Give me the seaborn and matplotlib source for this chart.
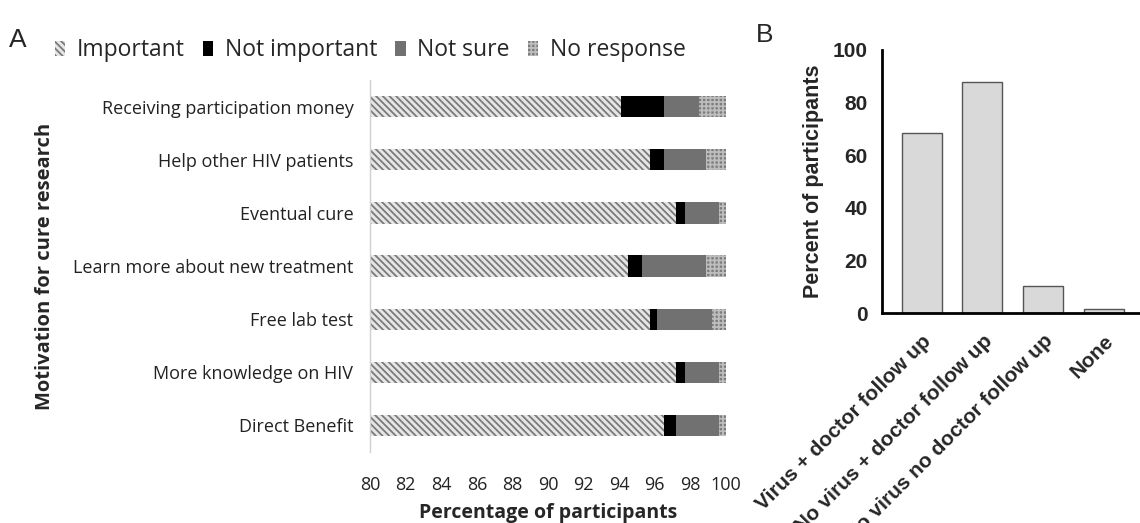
import matplotlib
matplotlib.use("Agg")
import matplotlib.pyplot as plt
import seaborn as sns
import numpy as np
import pandas as pd
from matplotlib.patches import Patch

# ---- Data: panel A ----
motivations = ["Receiving participation money", "Help other HIV patients", "Eventual cure",
               "Learn more about new treatment", "Free lab test", "More knowledge on HIV",
               "Direct Benefit"]
important = [94.1, 95.7, 97.2, 94.5, 95.7, 97.2, 96.5]
not_important = [2.4, 0.8, 0.5, 0.8, 0.4, 0.5, 0.7]
not_sure = [2.0, 2.4, 1.9, 3.6, 3.1, 1.9, 2.4]
no_response = [1.5, 1.1, 0.4, 1.1, 0.8, 0.4, 0.4]
categories_A = ["Important", "Not important", "Not sure", "No response"]

# ---- Data: panel B ----
groups_B = ["Virus + doctor follow up", "No virus + doctor follow up",
            "No virus no doctor follow up", "None"]
percent_B = [68.2, 87.8, 10.5, 1.6]

sns.set_theme(style="white")
plt.rcParams["hatch.linewidth"] = 1.3

fig = plt.figure(figsize=(11.4, 5.23), dpi=100)
axA = fig.add_axes([0.3246, 0.1358, 0.3123, 0.711])
axB = fig.add_axes([0.7734, 0.401, 0.2266, 0.5042])

dfA = pd.DataFrame({"Motivation": motivations, "Important": important,
                    "Not important": not_important, "Not sure": not_sure,
                    "No response": no_response})
cum = dfA[categories_A].cumsum(axis=1)

styles = {
    "Important": dict(fc="#e6e6e6", ec="#7a7a7a", hatch="\\\\\\\\\\"),
    "Not important": dict(fc="black", ec="black", hatch=None),
    "Not sure": dict(fc="#717171", ec="#717171", hatch=None),
    "No response": dict(fc="#7c7c7c", ec="#bdbdbd", hatch="++++"),
}

for cat in reversed(categories_A):
    n_before = len(axA.patches)
    sns.barplot(x=cum[cat], y=dfA["Motivation"], orient="h", ax=axA,
                width=0.4, color=styles[cat]["fc"], saturation=1)
    for p in axA.patches[n_before:]:
        p.set_facecolor(styles[cat]["fc"])
        p.set_edgecolor(styles[cat]["ec"])
        p.set_linewidth(0)
        if styles[cat]["hatch"]:
            p.set_hatch(styles[cat]["hatch"])

fontA = "Open Sans"
axA.set_xlim(80, 100)
axA.set_ylim(6.5, -0.5)
axA.set_xticks(np.arange(80, 101, 2))
axA.set_xticklabels([str(v) for v in range(80, 101, 2)], fontsize=13, family=fontA, color="#222222")
axA.set_yticks(range(len(motivations)))
axA.set_yticklabels(motivations, fontsize=13, family=fontA, color="#222222")
axA.tick_params(axis="y", length=0, pad=12)
axA.tick_params(axis="x", length=0, pad=17)
for s in ["top", "right", "bottom"]:
    axA.spines[s].set_visible(False)
axA.spines["left"].set_color("#d0d0d0")
axA.spines["left"].set_linewidth(1)
axA.set_xlabel("Percentage of participants", fontsize=14, fontweight="bold", family=fontA, labelpad=7)
axA.set_ylabel("Motivation for cure research", fontsize=14.5, fontweight="bold", family=fontA)
axA.yaxis.set_label_coords(-0.885, 0.5)

handles = [Patch(facecolor=styles[c]["fc"], edgecolor=styles[c]["ec"], hatch=styles[c]["hatch"], linewidth=0)
           for c in categories_A]
axA.legend(handles, categories_A, loc="center left", bbox_to_anchor=(-0.885, 1.08), ncol=4,
           frameon=False, prop={"family": fontA, "size": 16.5}, handlelength=0.45, handleheight=0.65,
           handletextpad=0.5, columnspacing=0.8, borderaxespad=0, borderpad=0)

fig.text(0.008, 0.91, "A", fontsize=19, family="Liberation Sans")
fig.text(0.663, 0.92, "B", fontsize=19, family="Liberation Sans")

# ---- Panel B ----
dfB = pd.DataFrame({"Group": groups_B, "Percent": percent_B})
sns.barplot(data=dfB, x="Group", y="Percent", ax=axB, color="#d9d9d9", saturation=1,
            width=0.66, edgecolor="#555555", linewidth=1.0)
axB.set_xlim(-0.66, 3.6)
axB.set_ylim(0, 100)
axB.set_yticks(range(0, 101, 20))
fontB = "Liberation Sans"
axB.set_yticklabels([str(v) for v in range(0, 101, 20)], fontsize=15, fontweight="bold", family=fontB)
axB.set_xticks(range(len(groups_B)))
axB.set_xticklabels(groups_B, rotation=45, ha="right", rotation_mode="anchor",
                    fontsize=15, fontweight="bold", family=fontB)
axB.tick_params(axis="both", length=8, width=2, color="black", direction="out", pad=2)
axB.tick_params(axis="x", pad=5)
for s in ["top", "right"]:
    axB.spines[s].set_visible(False)
for s in ["left", "bottom"]:
    axB.spines[s].set_color("black")
    axB.spines[s].set_linewidth(2)
axB.set_xlabel("")
axB.set_ylabel("Percent of participants", fontsize=15.5, fontweight="bold", family=fontB, labelpad=6)

fig.savefig("out.png", dpi=100, facecolor="white")
